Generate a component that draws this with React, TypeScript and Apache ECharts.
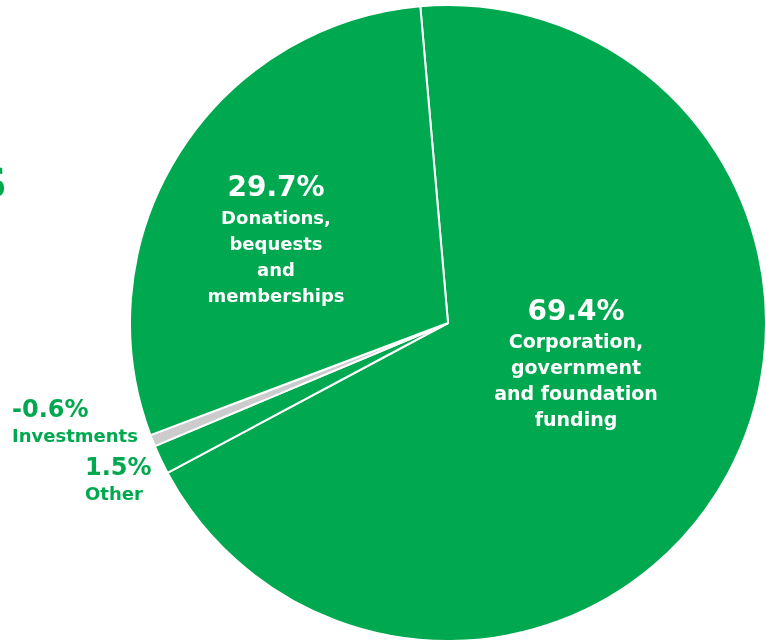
import React, { useEffect, useRef } from "react";
import * as echarts from "echarts";

const categories = [
  "Corporation,\ngovernment\nand foundation\nfunding",
  "Other",
  "Investments",
  "Donations,\nbequests\nand\nmemberships",
];
const shares = [69.4, 1.5, -0.6, 29.7];
const shareLabels = ["69.4%", "1.5%", "-0.6%", "29.7%"];

const GREEN = "#00a84f";
const GRAY = "#cccccc";
const FONT = "DejaVu Sans";

export default function App() {
  const ref = useRef<HTMLDivElement>(null);

  useEffect(() => {
    if (!ref.current) return;
    const chart = echarts.init(ref.current, undefined, { renderer: "svg" });

    const colors = [GREEN, GREEN, GRAY, GREEN];
    const inside = [true, false, false, true];

    const data = categories.map((name, i) => ({
      name,
      value: Math.abs(shares[i]),
      itemStyle: { color: colors[i] },
      label: {
        formatter: inside[i]
          ? `{wv|${shareLabels[i]}}\n{wt${i}|${name}}`
          : `{gv|${shareLabels[i]}}\n{gt|${name}}`,
        align: inside[i] ? "center" : "left",
      },
    }));

    // label anchor positions (layout only)
    const layouts: Record<number, any> = {
      0: { x: 576, y: 362, align: "center", verticalAlign: "middle" },
      1: { x: 85, y: 453, align: "left", verticalAlign: "top" },
      2: { x: 12, y: 395, align: "left", verticalAlign: "top" },
      3: { x: 276, y: 238, align: "center", verticalAlign: "middle" },
    };

    chart.setOption({
      animation: false,
      graphic: [
        {
          type: "text",
          style: {
            text: "S",
            x: 7,
            y: 183,
            align: "right",
            verticalAlign: "middle",
            fontSize: 40,
            fontWeight: "bold",
            fontFamily: FONT,
            fill: GREEN,
          },
        },
      ],
      series: [
        {
          type: "pie",
          center: [448, 323],
          radius: 318,
          startAngle: 95,
          clockwise: true,
          silent: true,
          emphasis: { disabled: true },
          itemStyle: { borderColor: "#ffffff", borderWidth: 2 },
          labelLine: { show: false },
          label: {
            show: true,
            position: "inside",
            fontFamily: FONT,
            rich: {
              wv: {
                fontSize: 28,
                fontWeight: "bold",
                color: "#ffffff",
                lineHeight: 36,
                fontFamily: FONT,
              },
              wt0: {
                fontSize: 19,
                fontWeight: "bold",
                color: "#ffffff",
                lineHeight: 26,
                fontFamily: FONT,
              },
              wt3: {
                fontSize: 18,
                fontWeight: "bold",
                color: "#ffffff",
                lineHeight: 26,
                fontFamily: FONT,
              },
              gv: {
                fontSize: 24,
                fontWeight: "bold",
                color: GREEN,
                lineHeight: 28,
                fontFamily: FONT,
              },
              gt: {
                fontSize: 18,
                fontWeight: "bold",
                color: GREEN,
                lineHeight: 24,
                fontFamily: FONT,
              },
            },
          },
          labelLayout: (params: any) => layouts[params.dataIndex],
          data,
        },
      ],
    });

    return () => chart.dispose();
  }, []);

  return (
    <div
      ref={ref}
      style={{ position: "fixed", left: 0, top: 0, width: 766, height: 641 }}
    />
  );
}
